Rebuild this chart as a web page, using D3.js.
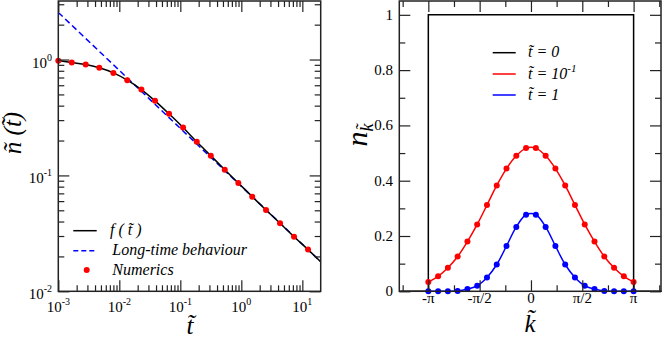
<!DOCTYPE html>
<html>
<head>
<meta charset="utf-8">
<script src="https://cdn.jsdelivr.net/npm/d3@7"></script>
</head>
<body style="margin:0">
<script>
// ---- left panel: density vs time (log-log) ----
const numT = [0.001, 0.00166, 0.00281, 0.0047, 0.0080, 0.0135, 0.0230, 0.0385, 0.0653, 0.111,
              0.186, 0.316, 0.535, 0.893, 1.51, 2.54, 4.31, 7.31, 12.4];
const numN = [0.975, 0.942, 0.906, 0.848, 0.767, 0.664, 0.551, 0.440, 0.340, 0.259,
              0.195, 0.148, 0.112, 0.086, 0.0656, 0.0503, 0.0386, 0.0296, 0.0229];
const fT = [0.001, 0.00166, 0.00281, 0.0047, 0.0080, 0.0135, 0.0230, 0.0385, 0.0653, 0.111,
            0.186, 0.316, 0.535, 0.893, 1.51, 2.54, 4.31, 7.31, 12.4, 20];
const fN = [0.98, 0.942, 0.906, 0.848, 0.767, 0.664, 0.551, 0.440, 0.340, 0.259,
            0.195, 0.148, 0.112, 0.086, 0.0656, 0.0503, 0.0386, 0.0296, 0.0229, 0.018];
const asymT = [0.001, 20];
const asymN = [2.55, 0.018];
const logXTicks = [1e-3, 1e-2, 1e-1, 1e0, 1e1];
const logXExp = ["-3", "-2", "-1", "0", "1"];
const logYTicks = [1e-2, 1e-1, 1e0];
const logYExp = ["-2", "-1", "0"];

// ---- right panel: momentum distribution ----
const kVals = [-3.1416, -2.8424, -2.5432, -2.2440, -1.9448, -1.6456, -1.3464, -1.0472, -0.7480, -0.4488, -0.1496,
               0.1496, 0.4488, 0.7480, 1.0472, 1.3464, 1.6456, 1.9448, 2.2440, 2.5432, 2.8424, 3.1416];
const nRed = [0.034, 0.054, 0.085, 0.126, 0.180, 0.242, 0.312, 0.383, 0.444, 0.490, 0.518,
              0.518, 0.490, 0.444, 0.383, 0.312, 0.242, 0.180, 0.126, 0.085, 0.054, 0.034];
const nBlue = [0, 0, 0, 0.001, 0.008, 0.020, 0.050, 0.097, 0.164, 0.233, 0.277,
               0.277, 0.233, 0.164, 0.097, 0.050, 0.020, 0.008, 0.001, 0, 0, 0];
const stepK = [-4, -3.1416, -3.1416, 3.1416, 3.1416, 4];
const stepN = [0, 0, 1, 1, 0, 0];
const kTicks = [-Math.PI, -Math.PI / 2, 0, Math.PI / 2, Math.PI];
const kLabels = ["-\u03c0", "-\u03c0/2", "0", "\u03c0/2", "\u03c0"];
const kMinor = [-5, -3, -1, 1, 3, 5].map(d => d * Math.PI / 4);
const nTicks = [0, 0.2, 0.4, 0.6, 0.8, 1];
const nLabels = ["0", "0.2", "0.4", "0.6", "0.8", "1"];
const nMinor = [0.1, 0.3, 0.5, 0.7, 0.9];

const W = 664, H = 339;
const MAJ = 11, MIN = 6;
const svg = d3.select("body").append("svg")
  .attr("width", W).attr("height", H)
  .style("display", "block");

const tld = "\u0303"; // combining tilde

// every text gets the serif face directly
function txt(parent, size, italic) {
  const t = parent.append("text")
    .attr("font-size", size)
    .style("font-family", '"Liberation Serif"')
    .attr("fill", "#000");
  if (italic) t.attr("font-style", "italic");
  return t;
}

// scales
const xL = d3.scaleLog().domain([1e-3, 20]).range([58.3, 320.7]);
const yL = d3.scaleLog().domain([0.01, 3.2]).range([291.3, 1]);
const xR = d3.scaleLinear().domain([-4.03, 3.98]).range([399.3, 661]);
const yR = d3.scaleLinear().domain([0, 1.05]).range([291.3, 1]);

// log minor ticks
function logMinor(lo, hi) {
  const out = [];
  for (let e = Math.floor(Math.log10(lo)); e <= Math.ceil(Math.log10(hi)); e++) {
    for (let m = 2; m <= 9; m++) {
      const v = m * Math.pow(10, e);
      if (v > lo && v < hi) out.push(v);
    }
  }
  return out;
}

// ticks on all four sides, pointing inward
function frameTicks(xs, ys, xMaj, xMin, yMaj, yMin) {
  const [x0, x1] = xs.range(), [y0, y1] = ys.range();
  const g = svg.append("g");
  const sets = [
    [d3.axisBottom(xs), `translate(0,${y0})`, xMaj, xMin],
    [d3.axisTop(xs), `translate(0,${y1})`, xMaj, xMin],
    [d3.axisLeft(ys), `translate(${x0},0)`, yMaj, yMin],
    [d3.axisRight(ys), `translate(${x1},0)`, yMaj, yMin]
  ];
  sets.forEach(([ax, tr, maj, min]) => {
    [[maj, MAJ], [min, MIN]].forEach(([vals, len]) => {
      const a = g.append("g").attr("transform", tr)
        .call(ax.tickValues(vals).tickSize(-len).tickFormat(""));
      a.select(".domain").remove();
      a.selectAll("text").remove();
      a.selectAll("line").attr("stroke", "#222").attr("stroke-width", 1.2);
    });
  });
  g.append("rect")
    .attr("x", x0).attr("y", y1)
    .attr("width", x1 - x0).attr("height", y0 - y1)
    .attr("fill", "none").attr("stroke", "#222").attr("stroke-width", 1.5);
}

// ================= left panel =================
const lineL = d3.line().x(d => xL(d[0])).y(d => yL(d[1])).curve(d3.curveCatmullRom);

svg.append("path")
  .datum(asymT.map((t, i) => [t, asymN[i]]))
  .attr("d", d3.line().x(d => xL(d[0])).y(d => yL(d[1])))
  .attr("fill", "none").attr("stroke", "#0000ff").attr("stroke-width", 1.5)
  .attr("stroke-dasharray", "6,3.5");

svg.append("path")
  .datum(fT.map((t, i) => [t, fN[i]]))
  .attr("d", lineL)
  .attr("fill", "none").attr("stroke", "#000").attr("stroke-width", 1.5);

svg.append("g").selectAll("circle")
  .data(numT.map((t, i) => [t, numN[i]]))
  .join("circle")
  .attr("cx", d => xL(d[0])).attr("cy", d => yL(d[1]))
  .attr("r", 3).attr("fill", "#ff0000");

frameTicks(xL, yL, logXTicks, logMinor(1e-3, 20), logYTicks, logMinor(0.01, 3.2));

// tick labels (10^n)
const gLab = svg.append("g");
logXTicks.forEach((v, i) => {
  const t = txt(gLab, 15, false).attr("x", xL(v)).attr("y", 312).attr("text-anchor", "middle");
  t.append("tspan").text("10");
  t.append("tspan").attr("dy", -7).attr("font-size", 10).text(logXExp[i]);
});
logYTicks.forEach((v, i) => {
  const t = txt(gLab, 15, false).attr("x", 52).attr("y", yL(v) + 8).attr("text-anchor", "end");
  t.append("tspan").text("10");
  t.append("tspan").attr("dy", -7).attr("font-size", 10).text(logYExp[i]);
});

// axis titles
txt(svg, 25, true).attr("x", 190).attr("y", 334).attr("text-anchor", "middle")
  .text("t" + tld);
txt(svg, 25, true).attr("transform", "translate(21,133) rotate(-90)").attr("text-anchor", "middle")
  .text("\u00f1 (t" + tld + ")");

// legend
const legL = svg.append("g");
legL.append("line").attr("x1", 73.3).attr("x2", 96.7).attr("y1", 230.7).attr("y2", 230.7)
  .attr("stroke", "#000").attr("stroke-width", 1.5);
txt(legL, 16, true).attr("x", 110).attr("y", 235).text("f ( t" + tld + " )");
legL.append("line").attr("x1", 73.3).attr("x2", 96.7).attr("y1", 250.7).attr("y2", 250.7)
  .attr("stroke", "#0000ff").attr("stroke-width", 1.5).attr("stroke-dasharray", "5,3");
txt(legL, 16, true).attr("x", 112.3).attr("y", 255).text("Long-time behaviour");
legL.append("circle").attr("cx", 86.7).attr("cy", 270).attr("r", 3).attr("fill", "#ff0000");
txt(legL, 16, true).attr("x", 112.3).attr("y", 274.5).text("Numerics");

// ================= right panel =================
const lineR = d3.line().x(d => xR(d[0])).y(d => yR(d[1]));

svg.append("path")
  .datum(stepK.map((k, i) => [k, stepN[i]]))
  .attr("d", lineR)
  .attr("fill", "none").attr("stroke", "#000").attr("stroke-width", 1.5);

[[nRed, "#ff0000"], [nBlue, "#0000ff"]].forEach(([vals, col]) => {
  const pts = kVals.map((k, i) => [k, vals[i]]);
  svg.append("path")
    .datum(pts)
    .attr("d", lineR.curve(d3.curveCatmullRom))
    .attr("fill", "none").attr("stroke", col).attr("stroke-width", 1.5);
  svg.append("g").selectAll("circle")
    .data(pts)
    .join("circle")
    .attr("cx", d => xR(d[0])).attr("cy", d => yR(d[1]))
    .attr("r", 3).attr("fill", col);
});

frameTicks(xR, yR, kTicks, kMinor, nTicks, nMinor);

const gLabR = svg.append("g");
kTicks.forEach((v, i) => {
  txt(gLabR, 15, false).attr("x", xR(v)).attr("y", 303).attr("text-anchor", "middle").text(kLabels[i]);
});
nTicks.forEach((v, i) => {
  txt(gLabR, 15, false).attr("x", 393).attr("y", yR(v) + 5).attr("text-anchor", "end").text(nLabels[i]);
});

txt(svg, 25, true).attr("x", 530).attr("y", 332).attr("text-anchor", "middle").text("k" + tld);

const yLab = txt(svg, 30, true).attr("transform", "translate(367,135) rotate(-90)").attr("text-anchor", "middle");
yLab.append("tspan").text("n");
yLab.append("tspan").attr("dy", 6).attr("font-size", 18).text("k" + tld);

// legend
const legR = svg.append("g");
const legRows = [["#000", 52.7, "0", null], ["#ff0000", 74, "10", "-1"], ["#0000ff", 95, "1", null]];
legRows.forEach(([col, y, val, sup]) => {
  legR.append("line").attr("x1", 492.7).attr("x2", 515.7).attr("y1", y).attr("y2", y)
    .attr("stroke", col).attr("stroke-width", 1.5);
  const t = txt(legR, 16, true).attr("x", 528).attr("y", y + 4.5);
  t.append("tspan").text("t" + tld + " = " + val);
  if (sup) t.append("tspan").attr("dy", -7).attr("font-size", 11).text(sup);
});
</script>
</body>
</html>
